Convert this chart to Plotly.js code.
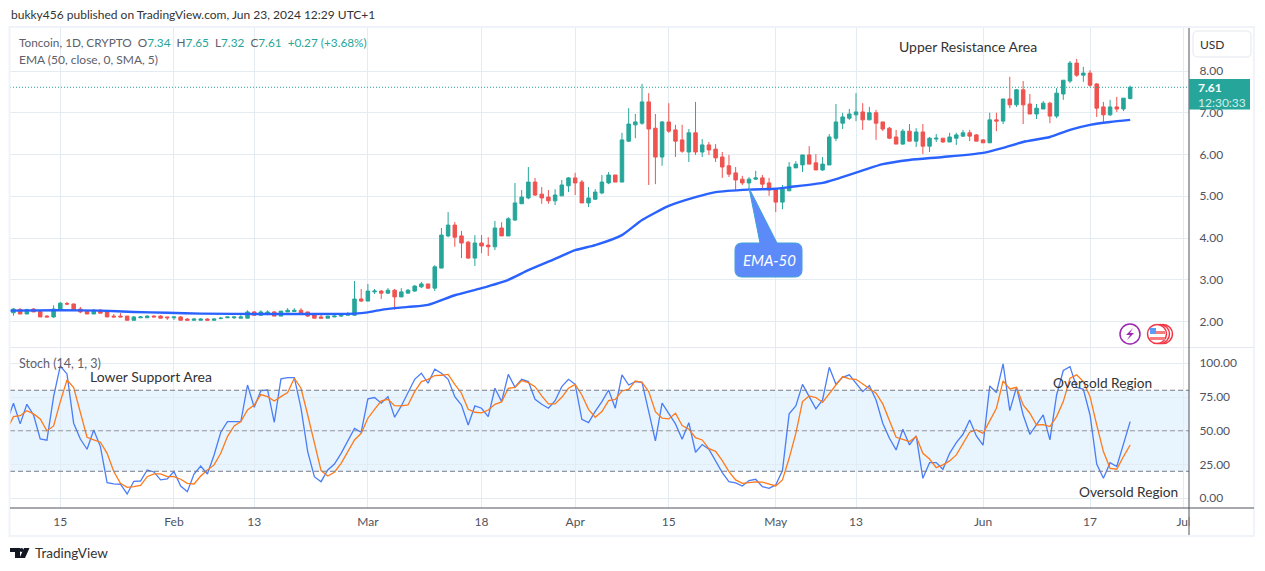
<!DOCTYPE html>
<html><head><meta charset="utf-8">
<script src="https://cdn.plot.ly/plotly-3.0.1.min.js"></script>
<style>html,body{margin:0;padding:0;background:#fff;overflow:hidden}#c{width:1265px;height:571px}</style>
</head><body><div id="c"></div>
<script>
const firstDay = [2024, 0, 8];
const opens = [2.21,2.29,2.18,2.30,2.24,2.13,2.11,2.27,2.43,2.42,
2.30,2.25,2.18,2.27,2.23,2.13,2.13,2.13,2.03,2.09,
2.09,2.13,2.13,2.11,2.09,2.11,2.06,2.03,2.03,2.06,
2.03,2.07,2.09,2.09,2.08,2.08,2.23,2.15,2.19,2.23,
2.13,2.23,2.24,2.27,2.23,2.16,2.11,2.08,2.11,2.13,
2.15,2.15,2.54,2.49,2.71,2.73,2.68,2.75,2.59,2.68,
2.73,2.83,2.90,2.80,3.28,4.05,4.31,4.05,3.90,3.52,
3.88,3.83,3.79,4.24,4.05,4.43,4.82,4.96,5.34,5.05,
4.98,4.89,5.01,5.25,5.44,5.34,4.84,4.93,5.08,5.32,
5.51,5.34,6.32,6.71,6.75,7.26,6.63,5.94,6.78,6.59,
6.35,6.06,6.52,6.06,6.23,6.13,5.94,5.73,5.56,5.41,
5.32,5.41,5.44,5.32,5.17,4.86,5.13,5.68,5.75,5.99,
5.80,5.63,5.75,6.39,6.75,6.87,6.95,7.02,6.83,7.00,
6.78,6.63,6.42,6.25,6.56,6.32,6.54,6.20,6.37,6.39,
6.30,6.39,6.44,6.52,6.47,6.35,6.28,6.83,6.80,7.33,
7.19,7.55,7.21,6.97,7.09,7.23,6.92,7.45,7.76,8.19,
7.90,7.95,7.69,7.14,6.95,7.14,7.09,7.34];
const highs = [2.32,2.32,2.30,2.32,2.24,2.15,2.39,2.47,2.47,2.43,
2.35,2.27,2.30,2.30,2.24,2.18,2.20,2.13,2.13,2.13,
2.15,2.15,2.15,2.11,2.11,2.13,2.08,2.08,2.08,2.08,
2.08,2.11,2.11,2.11,2.15,2.27,2.25,2.27,2.27,2.25,
2.25,2.32,2.32,2.32,2.23,2.20,2.18,2.13,2.15,2.16,
2.23,2.97,2.78,2.90,2.78,2.75,2.80,2.78,2.80,2.78,
2.87,2.95,2.90,3.35,4.24,4.62,4.38,4.17,3.93,4.07,
4.07,4.02,4.41,4.38,4.50,5.32,5.15,5.70,5.44,5.22,
5.15,5.17,5.39,5.46,5.56,5.39,5.22,5.17,5.51,5.58,
5.51,6.52,7.11,6.97,7.69,7.47,6.97,6.80,7.23,6.71,
6.71,6.61,7.26,6.37,6.30,6.25,6.06,5.99,5.70,5.49,
5.46,5.61,5.51,5.44,5.17,5.27,5.82,5.84,5.99,6.20,
6.01,5.94,6.49,7.21,7.00,7.09,7.47,7.23,7.14,7.07,
6.78,6.66,6.59,6.61,6.73,6.63,6.73,6.42,6.49,6.39,
6.52,6.52,6.59,6.59,6.49,6.37,7.00,7.00,7.33,7.86,
7.57,7.76,7.45,7.21,7.28,7.26,7.59,7.78,8.24,8.29,
8.10,8.02,7.71,7.26,7.31,7.38,7.35,7.65];
const lows = [2.14,2.18,2.18,2.23,2.11,2.11,2.09,2.27,2.39,2.27,
2.20,2.18,2.18,2.20,2.11,2.11,2.11,2.03,2.03,2.09,
2.09,2.11,2.08,2.04,2.04,2.03,2.03,2.03,2.03,2.03,
2.03,2.07,2.09,2.06,2.08,2.08,2.15,2.15,2.15,2.13,
2.13,2.23,2.24,2.20,2.11,2.08,2.08,2.08,2.11,2.11,
2.15,2.15,2.47,2.49,2.66,2.54,2.66,2.28,2.59,2.67,
2.71,2.80,2.78,2.73,3.28,4.02,3.79,3.52,3.50,3.33,
3.64,3.57,3.71,4.05,4.05,4.41,4.82,4.93,5.01,4.82,
4.82,4.79,5.01,5.10,5.03,4.84,4.74,4.91,5.05,5.29,
5.34,5.34,6.30,6.39,6.71,5.27,5.29,5.73,6.52,5.94,
6.04,5.82,5.99,5.94,5.99,5.82,5.44,5.46,5.15,5.27,
5.15,5.39,5.17,5.01,4.62,4.69,5.13,5.68,5.58,5.77,
5.63,5.61,5.75,6.32,6.61,6.83,6.80,6.59,6.83,6.35,
6.56,6.37,6.25,6.23,6.32,6.18,6.01,6.06,6.30,6.28,
6.30,6.23,6.42,6.32,6.32,6.28,6.28,6.56,6.73,7.11,
7.14,6.73,6.97,6.85,7.09,6.75,6.87,7.31,7.71,7.86,
7.74,7.62,6.90,6.78,6.92,7.02,7.04,7.32];
const closes = [2.30,2.18,2.29,2.23,2.11,2.11,2.30,2.44,2.42,2.27,
2.23,2.18,2.27,2.20,2.11,2.11,2.11,2.03,2.11,2.11,
2.13,2.11,2.08,2.09,2.11,2.03,2.03,2.06,2.06,2.03,
2.06,2.08,2.11,2.11,2.11,2.23,2.15,2.23,2.23,2.13,
2.25,2.27,2.27,2.20,2.13,2.08,2.08,2.13,2.13,2.16,
2.18,2.54,2.49,2.73,2.73,2.68,2.75,2.59,2.71,2.75,
2.85,2.90,2.80,3.31,4.07,4.31,4.02,3.88,3.52,3.88,
3.81,3.79,4.24,4.05,4.46,4.84,4.98,5.34,5.03,4.96,
4.89,5.03,5.27,5.44,5.32,4.84,4.96,5.10,5.34,5.51,
5.34,6.35,6.73,6.78,7.26,6.61,5.94,6.78,6.56,6.32,
6.08,6.52,6.06,6.23,6.11,5.92,5.70,5.53,5.39,5.32,
5.41,5.44,5.29,5.15,4.86,5.17,5.70,5.77,5.99,5.77,
5.63,5.77,6.42,6.78,6.90,6.97,7.02,6.83,7.00,6.75,
6.61,6.39,6.25,6.56,6.32,6.54,6.20,6.39,6.39,6.30,
6.42,6.47,6.52,6.44,6.32,6.28,6.83,6.80,7.33,7.19,
7.55,7.19,6.97,7.11,7.23,6.92,7.47,7.78,8.19,7.90,
7.95,7.66,7.11,6.95,7.14,7.09,7.35,7.61];
const emaDayIndex = [-1,7,13,18,23,28,38,51,53,55,59,62,66,70,74,77,81,84,87,91,94,98,102,105,110,114,116,121,123,127,130,134,139,145,148,151,155,158,161,164,167];
const emaValues = [2.26,2.27,2.26,2.23,2.21,2.19,2.18,2.19,2.22,2.28,2.35,2.40,2.63,2.80,3.00,3.23,3.50,3.71,3.83,4.07,4.43,4.77,4.98,5.10,5.16,5.18,5.22,5.32,5.41,5.62,5.77,5.87,5.94,6.04,6.16,6.30,6.42,6.59,6.71,6.78,6.83];
const stochK = [56.8,70.4,55.1,69.6,61.7,43.9,43.0,75.3,98.0,92.1,55.6,
43.9,36.3,50.6,38.3,11.6,10.6,10.4,3.2,12.6,12.8,
21.0,19.5,13.6,14.3,19.8,9.1,4.9,18.0,23.9,18.0,
32.1,48.9,56.8,56.8,56.8,83.9,67.4,79.7,80.2,56.3,
88.4,89.4,89.4,66.7,34.6,16.0,12.3,21.0,25.4,33.3,
42.7,51.8,48.9,73.6,74.6,70.4,75.3,60.0,68.4,77.8,
88.1,92.6,85.2,95.6,92.6,88.1,75.3,69.1,54.3,68.4,
66.7,60.5,81.5,71.6,91.8,82.2,88.1,86.4,73.3,69.6,
66.7,72.3,82.7,88.1,84.4,58.5,56.0,64.4,71.6,80.2,
66.7,91.4,83.9,86.4,85.9,64.2,42.5,70.4,63.0,55.1,
43.7,56.0,34.1,39.8,36.3,27.2,19.0,12.3,11.4,9.1,
13.1,14.1,8.6,7.4,9.9,20.5,62.5,68.4,84.4,75.3,
66.2,72.8,97.0,84.4,89.6,91.4,85.2,79.0,83.5,72.8,
55.6,44.4,35.8,51.1,39.5,46.2,14.8,26.4,26.4,21.5,
33.3,41.2,47.4,58.0,46.2,39.3,83.2,78.3,99.5,64.9,
82.2,61.7,47.4,54.3,61.7,43.2,76.5,94.6,97.5,82.2,
80.7,61.7,25.4,14.8,26.4,23.5,39.5,56.8];
const stochD = [50.6,60.5,61.2,64.9,62.5,58.8,49.9,53.6,71.6,87.6,82.0,
64.2,45.2,43.2,41.5,33.3,19.8,11.1,8.1,8.6,9.6,
16.0,18.0,18.0,16.0,16.0,14.1,11.1,10.6,16.5,21.0,
24.7,33.3,45.7,53.6,56.8,65.4,69.1,76.8,75.3,72.1,
75.3,78.3,88.9,81.5,61.7,40.7,20.5,16.5,19.3,25.9,
34.6,43.2,48.1,59.3,65.9,72.1,73.3,68.6,68.4,69.1,
79.0,86.4,88.1,90.9,91.1,91.8,84.4,77.8,65.9,63.7,
63.2,65.4,69.6,71.4,81.5,82.2,87.2,85.7,82.7,75.8,
69.9,69.9,74.8,81.5,84.4,76.5,65.9,60.0,64.2,72.3,
73.3,79.5,80.7,86.9,85.9,79.0,64.2,59.3,58.8,63.0,
53.8,51.1,44.9,43.2,36.8,34.8,27.9,19.8,13.6,11.1,
11.6,12.1,11.9,10.4,9.1,13.6,29.6,48.1,71.6,75.8,
74.6,71.1,77.8,83.9,90.1,88.4,88.1,84.7,81.5,77.8,
69.9,57.5,45.2,43.7,42.0,45.7,33.3,29.1,22.7,24.7,
27.7,32.1,40.0,48.9,50.6,48.1,57.3,66.7,86.9,81.0,
82.2,69.1,63.0,54.3,54.6,53.1,60.5,71.6,88.9,91.4,
86.4,75.3,54.3,34.6,22.2,21.5,30.9,39.5];
const tickDates = ['2024-01-15','2024-02-01','2024-02-13','2024-03-01','2024-03-18','2024-04-01','2024-04-15','2024-05-01','2024-05-13','2024-06-01','2024-06-17','2024-07-01'];
const tickLabels = ['15','Feb','13','Mar','18','Apr','15','May','13','Jun','17','Jul'];
const priceTicks = [2,3,4,5,6,7,8];
const stochTicks = [0,25,50,75,100];
const lastPrice = 7.61;

const UI = 'Lato, sans-serif';
const UP = '#26A69A', DOWN = '#EF5350', GRID = '#E3ECF2', AXIS = '#50535E', TXT = '#50535E';
const dayOf = i => { const d = new Date(Date.UTC(firstDay[0], firstDay[1], firstDay[2] + i)); return d.toISOString().slice(0,10); };
const candleDays = opens.map((_, i) => dayOf(i));
const stochDays = stochK.map((_, i) => dayOf(i - 1));
const emaDays = emaDayIndex.map(dayOf);

// page pixels to paper fractions, for the chart furniture only
const L = 10, R = 1189, T = 28, B = 508;
const px = x => (x - L) / (R - L), py = y => (B - y) / (B - T);
const rect = (x0,y0,x1,y1,fill,line,lw,layer) => ({type:'rect',xref:'paper',yref:'paper',x0:px(x0),x1:px(x1),y0:py(y0),y1:py(y1),fillcolor:fill||'rgba(0,0,0,0)',line:{color:line||'rgba(0,0,0,0)',width:lw||0},layer:layer||'above'});
const seg = (x0,y0,x1,y1,color,w) => ({type:'line',xref:'paper',yref:'paper',x0:px(x0),x1:px(x1),y0:py(y0),y1:py(y1),line:{color,width:w||1},layer:'above'});
const P = a => a.map(s => s[0] + s.slice(1).map((v,k) => k%2===0 ? px(v) : py(v)).join(' ')).join(' ');
const pathShape = (segs, fill, line, lw) => ({type:'path',xref:'paper',yref:'paper',path:P(segs),fillcolor:fill||'rgba(0,0,0,0)',line:{color:line||'rgba(0,0,0,0)',width:lw||0},layer:'above'});
const circle = (cx,cy,r,fill,line,lw) => ({type:'circle',xref:'paper',yref:'paper',x0:px(cx-r),x1:px(cx+r),y0:py(cy+r),y1:py(cy-r),fillcolor:fill,line:{color:line,width:lw},layer:'above'});
const roundRect = (x0,y0,x1,y1,r) => [['M',x0+r,y0],['L',x1-r,y0],['Q',x1,y0,x1,y0+r],['L',x1,y1-r],['Q',x1,y1,x1-r,y1],['L',x0+r,y1],['Q',x0,y1,x0,y1-r],['L',x0,y0+r],['Q',x0,y0,x0+r,y0],['Z']];
const txt = (x,y,text,size,color,extra) => Object.assign({xref:'paper',yref:'paper',x:px(x),y:py(y),text,showarrow:false,xanchor:'left',yanchor:'middle',borderpad:0,font:{family:UI,size,color}},extra||{});

const val = s => `<span style="color:${UP}">${s}</span>`;
const annotations = [
  txt(10,15,'bukky456 published on TradingView.com, Jun 23, 2024 12:29 UTC+1',12,'#333333'),
  txt(18,42,`Toncoin, 1D, CRYPTO  O${val('7.34')}  H${val('7.65')}  L${val('7.32')}  C${val('7.61')}  ${val('+0.27 (+3.68%)')}`,11.8,'#5D606B'),
  txt(18,59,'EMA (50, close, 0, SMA, 5)',12,'#5D606B'),
  txt(18,363,'Stoch (14, 1, 3)',12.5,'#5D606B'),
  txt(898,47,'Upper Resistance Area',14,'#333333'),
  txt(89,376,'Lower Support Area',14,'#333333'),
  txt(1052,383,'Oversold Region',13.7,'#333333'),
  txt(1078,491,'Oversold Region',13.7,'#333333'),
  txt(769,260,'<i>EMA-50</i>',15,'#FFFFFF',{xanchor:'center'}),
  txt(1197,87.5,'<b>7.61</b>',12,'#FFFFFF'),
  txt(1197,102,'12:30:33',12,'#D4EEEB'),
  txt(1212,45,'USD',12,'#333333',{xanchor:'center'}),
  txt(34,553,'TradingView',13.5,'#333333')
];

const shapes = [
  // overbought / oversold zone and levels
  {type:'rect',xref:'paper',yref:'y2',x0:0,x1:1,y0:20,y1:80,fillcolor:'rgba(33,150,243,0.1)',line:{width:0},layer:'below'},
  {type:'line',xref:'paper',yref:'y2',x0:0,x1:1,y0:80,y1:80,line:{color:'#787B86',width:1,dash:'5px,3px'},layer:'above'},
  {type:'line',xref:'paper',yref:'y2',x0:0,x1:1,y0:50,y1:50,line:{color:'rgba(120,123,134,0.75)',width:1,dash:'5px,3px'},layer:'above'},
  {type:'line',xref:'paper',yref:'y2',x0:0,x1:1,y0:20,y1:20,line:{color:'#787B86',width:1,dash:'5px,3px'},layer:'above'},
  {type:'line',xref:'paper',yref:'y',x0:0,x1:1,y0:lastPrice,y1:lastPrice,line:{color:UP,width:1,dash:'1px,2px'},layer:'above'},
  // covers the part of the last date label under the scale column
  rect(1189.5,509,1253,534,'#FFFFFF'),
  // frame and pane dividers
  rect(9.5,27,1254,536,null,'#F0F3FA',2),
  seg(10,347.5,1254,347.5,'#E6E8F0',1),
  seg(10,508,1254,508,AXIS,1),
  seg(1189,28,1189,535,AXIS,1),
  // USD button, last price tag
  pathShape(roundRect(1193,31,1251,57,5),'#FFFFFF','#EEF0F5',1.5),
  pathShape([['M',1189,79],['L',1250,79],['L',1250,109.5],['L',1189,109.5],['Z']],UP),
  // EMA-50 callout
  pathShape([['M',749,188],['L',777,243],['L',795,243],['Q',802,243,802,250],['L',802,270],['Q',802,277,795,277],['L',742,277],['Q',735,277,735,270],['L',735,250],['Q',735,243,742,243],['L',760,243],['Z']],'#5C8AF8','#3FA2D8',1),
  // purple bolt badge
  circle(1130,334,10,'#FFFFFF','#9C27B0',1.5),
  pathShape([['M',1133,328],['L',1126,335],['L',1130,335],['L',1127,340],['L',1134,333],['L',1130,333],['Z']],'#9C27B0'),
  // flag badges
  circle(1163,334,9.5,'#FFFFFF','#F23645',1.5),
  circle(1160,334,9.5,'#FFFFFF','#F23645',1.5),
  circle(1157,334,9.5,'#FFFFFF','#F23645',1.5),
  pathShape([['M',1150,328],['L',1156,328],['L',1156,334],['L',1150,334],['Z']],'#5B9CF6'),
  pathShape([['M',1156,331],['L',1165,331],['L',1165,334],['L',1156,334],['Z']],'#F77C80'),
  pathShape([['M',1150,337],['L',1165,337],['L',1165,340],['L',1150,340],['Z']],'#F77C80'),
  // TradingView logo
  pathShape([['M',10,548],['L',20,548],['L',20,558],['L',15,558],['L',15,552],['L',10,552],['Z']],'#131722'),
  circle(21.5,550,1.9,'#131722','#131722',0),
  pathShape([['M',24,548],['L',29.5,548],['L',25,558],['L',19.5,558],['Z']],'#131722')
];

const traces = [
  {type:'scatter',mode:'lines',x:emaDays,y:emaValues,xaxis:'x',yaxis:'y',line:{color:'#2962FF',width:2.4,shape:'spline',smoothing:0.6},hoverinfo:'skip',showlegend:false},
  {type:'candlestick',x:candleDays,open:opens,high:highs,low:lows,close:closes,xaxis:'x',yaxis:'y',whiskerwidth:0,
    increasing:{line:{color:UP,width:1},fillcolor:UP},decreasing:{line:{color:DOWN,width:1},fillcolor:DOWN},hoverinfo:'skip',showlegend:false},
  {type:'scatter',mode:'lines',x:stochDays,y:stochK,xaxis:'x',yaxis:'y2',line:{color:'#4A7DF6',width:1.3},hoverinfo:'skip',showlegend:false},
  {type:'scatter',mode:'lines',x:stochDays,y:stochD,xaxis:'x',yaxis:'y2',line:{color:'#FF7A1A',width:1.3},hoverinfo:'skip',showlegend:false}
];

const layout = {
  width:1265,height:571,autosize:false,showlegend:false,
  margin:{l:L,r:1265-R,t:T,b:571-B,pad:0},
  paper_bgcolor:'#FFFFFF',plot_bgcolor:'#FFFFFF',boxgap:0.25,
  font:{family:UI,size:12,color:TXT},
  xaxis:{type:'date',range:['2024-01-07 11:30','2024-07-01 19:12'],anchor:'y2',rangeslider:{visible:false},
    tickmode:'array',tickvals:tickDates,ticktext:tickLabels,ticks:'outside',ticklen:3,tickcolor:'rgba(0,0,0,0)',
    gridcolor:GRID,gridwidth:1,showline:false,zeroline:false,tickfont:{family:UI,size:12,color:TXT}},
  yaxis:{domain:[161/480,1],range:[1.39,9.03],side:'right',anchor:'x',tickmode:'array',tickvals:priceTicks,
    tickformat:'.2f',ticks:'outside',ticklen:7,tickcolor:'rgba(0,0,0,0)',gridcolor:GRID,gridwidth:1,zeroline:false,showline:false,tickfont:{family:UI,size:12,color:TXT}},
  yaxis2:{domain:[0,160/480],range:[-7.2,111.3],side:'right',anchor:'x',tickmode:'array',tickvals:stochTicks,
    tickformat:'.2f',ticks:'outside',ticklen:7,tickcolor:'rgba(0,0,0,0)',gridcolor:GRID,gridwidth:1,zeroline:false,showline:false,tickfont:{family:UI,size:12,color:TXT}},
  shapes,annotations
};
Plotly.newPlot('c',traces,layout,{staticPlot:true,displayModeBar:false});
</script>
</body></html>
